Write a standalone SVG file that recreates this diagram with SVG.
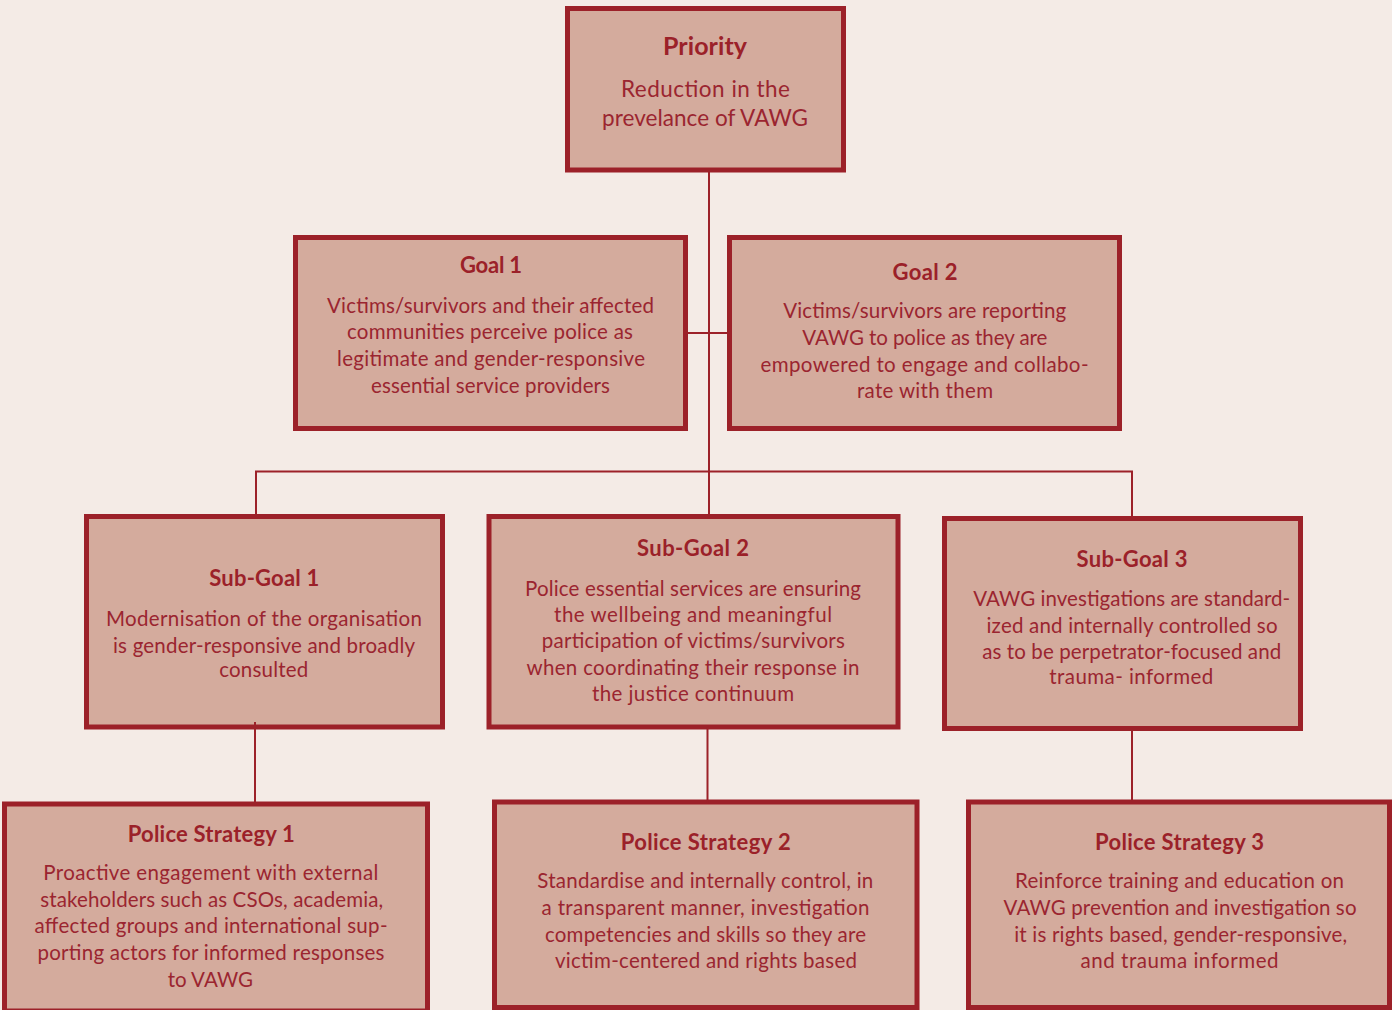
<svg xmlns="http://www.w3.org/2000/svg" width="1392" height="1010" viewBox="0 0 1392 1010">
<style>
.box{fill:#d4ab9d;stroke:#9c2129;stroke-width:5}
.t{font-family:Lato,"Open Sans","Liberation Sans",sans-serif;font-weight:bold;font-size:22px;fill:#9b2129;text-anchor:middle}
.b{font-family:Lato,"Open Sans","Liberation Sans",sans-serif;font-size:20.5px;fill:#9b2530;text-anchor:middle}
.pb{font-size:22.5px}
.pt{font-size:25px}
.conn{fill:none;stroke:#9c2129;stroke-width:2}
</style>
<rect x="0" y="0" width="1392" height="1010" fill="#f4ebe6"/>
<g id="priority">
<rect class="box" x="567.5" y="8.5" width="276" height="161.5"/>
<text class="t pt" x="705" y="55" textLength="84">Priority</text>
<text class="b pb" x="705.5" y="97" textLength="169">Reduction in the</text>
<text class="b pb" x="705" y="126" textLength="206">prevelance of VAWG</text>
</g>
<g id="goal1">
<rect class="box" x="295.5" y="237.5" width="390" height="191"/>
<text class="t" x="491" y="273.3" textLength="62">Goal 1</text>
<text class="b" x="490.5" y="312.7" textLength="327">Victims/survivors and their affected</text>
<text class="b" x="490" y="339.3" textLength="286">communities perceive police as</text>
<text class="b" x="491" y="366" textLength="308">legitimate and gender-responsive</text>
<text class="b" x="490.5" y="392.7" textLength="239">essential service providers</text>
</g>
<g id="goal2">
<rect class="box" x="729.5" y="237.5" width="390" height="191"/>
<text class="t" x="925" y="280" textLength="65">Goal 2</text>
<text class="b" x="924.7" y="318.3" textLength="283">Victims/survivors are reporting</text>
<text class="b" x="924.8" y="345" textLength="245">VAWG to police as they are</text>
<text class="b" x="924.5" y="371.7" textLength="328">empowered to engage and collabo-</text>
<text class="b" x="925" y="398.3" textLength="136">rate with them</text>
</g>
<g id="subgoal1">
<rect class="box" x="86.5" y="516.5" width="356" height="210.5"/>
<text class="t" x="264.3" y="586" textLength="110">Sub-Goal 1</text>
<text class="b" x="264" y="625.7" textLength="316">Modernisation of the organisation</text>
<text class="b" x="264" y="652.7" textLength="302">is gender-responsive and broadly</text>
<text class="b" x="263.7" y="677.3" textLength="89">consulted</text>
</g>
<g id="subgoal2">
<rect class="box" x="489" y="516.5" width="409" height="210.5"/>
<text class="t" x="693" y="555.7" textLength="112">Sub-Goal 2</text>
<text class="b" x="693" y="595.7" textLength="336">Police essential services are ensuring</text>
<text class="b" x="693" y="621.7" textLength="278">the wellbeing and meaningful</text>
<text class="b" x="693.3" y="648.3" textLength="303">participation of victims/survivors</text>
<text class="b" x="693" y="675" textLength="333">when coordinating their response in</text>
<text class="b" x="693" y="701" textLength="202">the justice continuum</text>
</g>
<g id="subgoal3">
<rect class="box" x="944.5" y="518.5" width="356" height="210"/>
<text class="t" x="1132" y="566.7" textLength="111">Sub-Goal 3</text>
<text class="b" x="1131.7" y="606" textLength="317">VAWG investigations are standard-</text>
<text class="b" x="1132" y="632.7" textLength="291">ized and internally controlled so</text>
<text class="b" x="1131.7" y="659" textLength="299">as to be perpetrator-focused and</text>
<text class="b" x="1131.3" y="684.3" textLength="164">trauma- informed</text>
</g>
<g id="strategy1">
<rect class="box" x="4.5" y="804" width="423" height="207"/>
<text class="t" x="211.3" y="841.7" textLength="167">Police Strategy 1</text>
<text class="b" x="210.8" y="880" textLength="335">Proactive engagement with external</text>
<text class="b" x="211.7" y="906.7" textLength="343">stakeholders such as CSOs, academia,</text>
<text class="b" x="211" y="933.3" textLength="353">affected groups and international sup-</text>
<text class="b" x="211" y="960" textLength="347">porting actors for informed responses</text>
<text class="b" x="210.3" y="986.7">to VAWG</text>
</g>
<g id="strategy2">
<rect class="box" x="494.5" y="802" width="422.5" height="205.5"/>
<text class="t" x="705.7" y="850" textLength="170">Police Strategy 2</text>
<text class="b" x="705.3" y="888.3" textLength="336">Standardise and internally control, in</text>
<text class="b" x="705.5" y="915" textLength="328">a transparent manner, investigation</text>
<text class="b" x="705.5" y="941.7" textLength="321">competencies and skills so they are</text>
<text class="b" x="706" y="968.3" textLength="302">victim-centered and rights based</text>
</g>
<g id="strategy3">
<rect class="box" x="968.5" y="802" width="421" height="205.5"/>
<text class="t" x="1179.5" y="850" textLength="169">Police Strategy 3</text>
<text class="b" x="1179.5" y="888.3" textLength="329">Reinforce training and education on</text>
<text class="b" x="1180" y="915" textLength="353">VAWG prevention and investigation so</text>
<text class="b" x="1180.7" y="941.7" textLength="333">it is rights based, gender-responsive,</text>
<text class="b" x="1179.5" y="968.3" textLength="198">and trauma informed</text>
</g>
<g id="connectors">
<path class="conn" d="M709 170 V517"/>
<path class="conn" d="M686 333 H730"/>
<path class="conn" d="M256 517 V471.5 H1132 V519"/>
<path class="conn" d="M255 722 V805"/>
<path class="conn" d="M707.5 727 V803"/>
<path class="conn" d="M1132 729 V803"/>
</g>
</svg>
